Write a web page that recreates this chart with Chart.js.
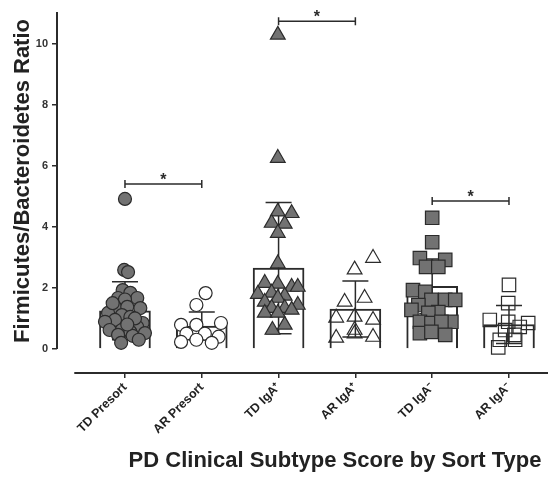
<!DOCTYPE html>
<html>
<head>
<meta charset="utf-8">
<script src="https://cdn.jsdelivr.net/npm/chart.js@4"></script>
<style>
  html, body { margin: 0; padding: 0; background: #fff; }
  #wrap { width: 559px; height: 477px; position: relative; }
</style>
</head>
<body>
<div id="wrap"><canvas id="ratio-chart"></canvas></div>
<script>
// groups along the x axis
const categories = ['TD Presort', 'AR Presort', 'TD IgA\u207A', 'AR IgA\u207A', 'TD IgA\u207B', 'AR IgA\u207B'];
const yTicks = [0, 2, 4, 6, 8, 10];

// group mean and SD
const means = [1.25, 0.75, 2.65, 1.31, 2.05, 0.8];
const sds = [0.95, 0.46, 2.15, 0.92, 0.9, 0.62];

// individual samples (value) and horizontal spread inside each group (category units)
const tdPresort = [4.92, 2.59, 2.52, 1.93, 1.84, 1.67, 1.67, 1.62, 1.38, 1.38, 1.34, 1.18, 1.11, 1.05, 0.95, 0.89, 0.85, 0.72, 0.62, 0.62, 0.56, 0.52, 0.46, 0.43, 0.2, 1.5, 1.0, 0.8, 0.3];
const tdPresortSpread = [0, -0.01, 0.04, -0.03, 0.07, 0.16, -0.09, 0, -0.13, 0.03, 0.2, -0.22, -0.04, 0.07, -0.13, -0.26, 0.23, 0.16, -0.2, -0.04, 0.07, 0.26, -0.09, 0.1, -0.05, -0.16, 0.13, 0.03, 0.18];

const arPresort = [1.83, 1.44, 0.79, 0.79, 0.85, 0.5, 0.5, 0.4, 0.23, 0.3, 0.2];
const arPresortSpread = [0.05, -0.07, -0.27, -0.07, 0.25, -0.2, 0.04, 0.22, -0.27, -0.07, 0.13];

const tdIgaPos = [10.3, 6.26, 4.5, 4.45, 4.13, 4.1, 3.8, 2.8, 2.16, 2.13, 2.03, 2.03, 1.8, 1.84, 1.74, 1.67, 1.54, 1.44, 1.34, 1.34, 1.28, 1.18, 1.18, 0.79, 0.62];
const tdIgaPosSpread = [-0.01, -0.01, -0.01, 0.17, -0.09, 0.08, -0.01, -0.01, -0.18, -0.01, 0.17, 0.25, -0.27, -0.09, 0.08, -0.01, -0.18, 0.25, -0.09, 0.08, 0.17, -0.18, -0.01, 0.08, -0.08];

const arIgaPos = [2.98, 2.6, 1.54, 1.67, 1.02, 1.05, 0.95, 0.62, 0.5, 0.36, 0.39];
const arIgaPosSpread = [0.23, -0.01, -0.14, 0.12, -0.25, -0.01, 0.23, -0.01, -0.01, -0.25, 0.23];

const tdIgaNeg = [4.3, 3.5, 2.98, 2.92, 2.69, 2.69, 1.93, 1.87, 1.61, 1.61, 1.61, 1.44, 1.28, 1.21, 1.18, 0.89, 0.89, 0.85, 0.89, 0.52, 0.56, 0.46];
const tdIgaNegSpread = [0, 0, -0.16, 0.17, -0.08, 0.08, -0.25, -0.09, -0.01, 0.17, 0.3, -0.18, -0.27, 0.08, -0.05, -0.16, 0.25, -0.01, 0.12, -0.16, -0.01, 0.17];

const arIgaNeg = [2.1, 1.5, 0.95, 0.89, 0.85, 0.72, 0.62, 0.46, 0.3, 0.3, 0.05];
const arIgaNegSpread = [0, -0.01, -0.25, -0.01, 0.25, 0.14, -0.05, 0.07, -0.12, 0.08, -0.14];

// significance brackets: from group, to group, height
const sigFrom = [0, 2, 4];
const sigTo = [1, 3, 5];
const sigY = [5.41, 10.75, 4.85];
const sigLabel = ['*', '*', '*'];

const INK = '#2b2b2b';
const GREY = '#727272';
const FONT = '"Liberation Sans", Arial, sans-serif';

function points(group, values, spread) {
  return values.map((v, i) => ({ x: group + spread[i], y: v }));
}

function pointSet(group, values, spread, style, radius, filled, solidWhite) {
  return {
    type: 'scatter',
    order: 0,
    data: points(group, values, spread),
    pointStyle: style,
    pointRadius: radius,
    pointHoverRadius: radius,
    pointBorderWidth: 1.2,
    pointBorderColor: INK,
    pointBackgroundColor: filled ? GREY : (solidWhite ? '#ffffff' : 'rgba(255,255,255,0)'),
  };
}

const decor = {
  id: 'decor',
  afterDatasetDraw(chart, args) {
    if (args.index !== 0) return;
    // SD whiskers on top of the bars, under the points
    const { ctx } = chart;
    const xs = chart.scales.x, ys = chart.scales.y;
    ctx.save();
    ctx.strokeStyle = INK;
    ctx.lineWidth = 1.5;
    means.forEach((m, i) => {
      const px = xs.getPixelForValue(i);
      const hi = ys.getPixelForValue(m + sds[i]);
      const lo = ys.getPixelForValue(Math.max(0, m - sds[i]));
      ctx.beginPath();
      ctx.moveTo(px, hi); ctx.lineTo(px, lo);
      ctx.moveTo(px - 13, hi); ctx.lineTo(px + 13, hi);
      ctx.moveTo(px - 13, lo); ctx.lineTo(px + 13, lo);
      ctx.stroke();
    });
    ctx.restore();
  },
  afterDraw(chart) {
    const { ctx, chartArea } = chart;
    const xs = chart.scales.x, ys = chart.scales.y;
    ctx.save();
    ctx.strokeStyle = INK;
    ctx.lineWidth = 2;

    // detached axes
    ctx.beginPath();
    ctx.moveTo(chartArea.left, ys.getPixelForValue(0));
    ctx.lineTo(chartArea.left, chartArea.top);
    ctx.moveTo(xs.getPixelForValue(-0.66), chartArea.bottom);
    ctx.lineTo(chartArea.right, chartArea.bottom);
    ctx.stroke();

    // significance brackets
    ctx.lineWidth = 1.5;
    ctx.fillStyle = INK;
    ctx.font = 'bold 16px ' + FONT;
    ctx.textAlign = 'center';
    ctx.textBaseline = 'alphabetic';
    sigY.forEach((v, i) => {
      const x1 = xs.getPixelForValue(sigFrom[i]);
      const x2 = xs.getPixelForValue(sigTo[i]);
      const y = ys.getPixelForValue(v);
      ctx.beginPath();
      ctx.moveTo(x1, y); ctx.lineTo(x2, y);
      ctx.moveTo(x1, y - 4); ctx.lineTo(x1, y + 4);
      ctx.moveTo(x2, y - 4); ctx.lineTo(x2, y + 4);
      ctx.stroke();
      ctx.fillText(sigLabel[i], (x1 + x2) / 2, y + 1);
    });

    // axis titles
    ctx.fillStyle = '#222';
    ctx.font = 'bold 22px ' + FONT;
    ctx.textBaseline = 'middle';
    ctx.fillText('PD Clinical Subtype Score by Sort Type', 335, 461);
    ctx.translate(23, 181);
    ctx.rotate(-Math.PI / 2);
    ctx.fillText('Firmicutes/Bacteroidetes Ratio', 0, 0);
    ctx.restore();
  }
};

const ctx = document.getElementById('ratio-chart').getContext('2d');
new Chart(ctx, {
  type: 'scatter',
  data: {
    datasets: [
      {
        type: 'bar',
        order: 10,
        data: means.map((m, i) => ({ x: i, y: m })),
        barThickness: 51,
        backgroundColor: '#ffffff',
        borderColor: INK,
        borderWidth: 2,
      },
      pointSet(0, tdPresort, tdPresortSpread, 'circle', 6.5, true),
      pointSet(1, arPresort, arPresortSpread, 'circle', 6.5, false, true),
      pointSet(2, tdIgaPos, tdIgaPosSpread, 'triangle', 8.5, true),
      pointSet(3, arIgaPos, arIgaPosSpread, 'triangle', 8.5, false),
      pointSet(4, tdIgaNeg, tdIgaNegSpread, 'rect', 9.5, true),
      pointSet(5, arIgaNeg, arIgaNegSpread, 'rect', 9.5, false),
    ],
  },
  options: {
    responsive: true,
    maintainAspectRatio: false,
    animation: false,
    layout: { padding: { top: 12, right: 11, left: 0, bottom: 0 } },
    plugins: {
      legend: { display: false },
      tooltip: { enabled: false },
    },
    scales: {
      x: {
        type: 'linear',
        offset: false,
        min: -0.885,
        max: 5.508,
        afterBuildTicks: s => { s.ticks = categories.map((c, i) => ({ value: i })); },
        afterFit: s => { s.height = 104; },
        border: { display: false },
        grid: { offset: false, drawOnChartArea: false, drawTicks: true, tickLength: 5, color: INK, lineWidth: 1.5 },
        ticks: {
          callback: v => categories[v],
          minRotation: 45,
          maxRotation: 45,
          autoSkip: false,
          padding: 2,
          color: '#222',
          font: { family: FONT, size: 12.5, weight: 'bold' },
        },
      },
      y: {
        min: -0.79,
        max: 11.05,
        afterBuildTicks: s => { s.ticks = yTicks.map(v => ({ value: v })); },
        afterFit: s => { s.width = 57; },
        border: { display: false },
        grid: { drawOnChartArea: false, drawTicks: true, tickLength: 5, color: INK, lineWidth: 1.5 },
        ticks: {
          padding: 4,
          color: '#333',
          font: { family: FONT, size: 11, weight: 'bold' },
        },
      },
    },
  },
  plugins: [decor],
});
</script>
</body>
</html>
